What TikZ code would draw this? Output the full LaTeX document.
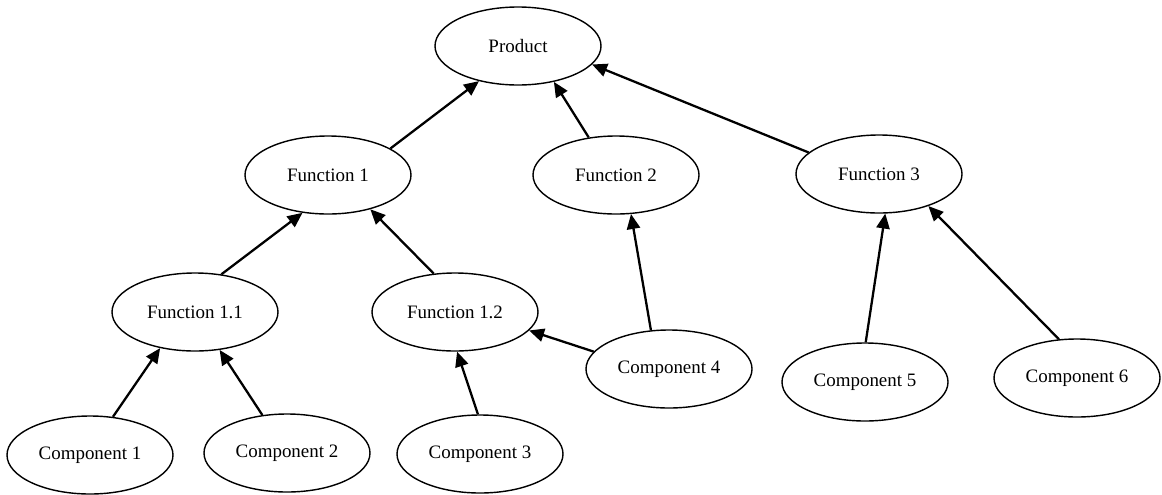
\documentclass[tikz,border=0pt]{standalone}
\usepackage{fontspec}
\setmainfont{Liberation Serif}
\usetikzlibrary{shapes.geometric,arrows.meta}
\tikzset{
  blob/.style={ellipse, draw, line width=0.8pt, minimum width=166*0.02cm, minimum height=78*0.02cm,
    inner sep=0pt, font=\fontsize{10.8}{13}\selectfont},
  link/.style={line width=1.3pt, -{Triangle[length=8.5pt,width=7.5pt]}}
}
\begin{document}
\begin{tikzpicture}[x=0.02cm,y=-0.02cm]
\useasboundingbox (0,0) rectangle (1162,494);
% nodes
\node[blob] (p)   at (518,46)  {Product};
\node[blob] (f1)  at (328,175) {Function 1};
\node[blob] (f2)  at (616,175) {Function 2};
\node[blob] (f3)  at (879,174) {Function 3};
\node[blob] (f11) at (195,312) {Function 1.1};
\node[blob] (f12) at (455,312) {Function 1.2};
\node[blob] (c1)  at (90,455)  {Component 1};
\node[blob] (c2)  at (287,453) {Component 2};
\node[blob] (c3)  at (480,454) {Component 3};
\node[blob] (c4)  at (669,369) {Component 4};
\node[blob] (c5)  at (865,382) {Component 5};
\node[blob] (c6)  at (1077,378) {Component 6};
% connectors, child to parent
\draw[link] (f1.23)   -- (p.222);
\draw[link] (f2.126)  -- (p.315);
\draw[link] (f3.163)  -- (p.346);
\draw[link] (f11.55)  -- (f1.236);
\draw[link] (f12.119) -- (f1.321);
\draw[link] (c1.59)   -- (f11.226);
\draw[link] (c2.123)  -- (f11.303);
\draw[link] (c3.93)   -- (f12.273);
\draw[link] (c4.167)  -- (f12.346);
\draw[link] (c4.115)  -- (f2.291);
\draw[link] (c5.89)   -- (f3.279);
\draw[link] (c6.115)  -- (f3.327);
\end{tikzpicture}
\end{document}
